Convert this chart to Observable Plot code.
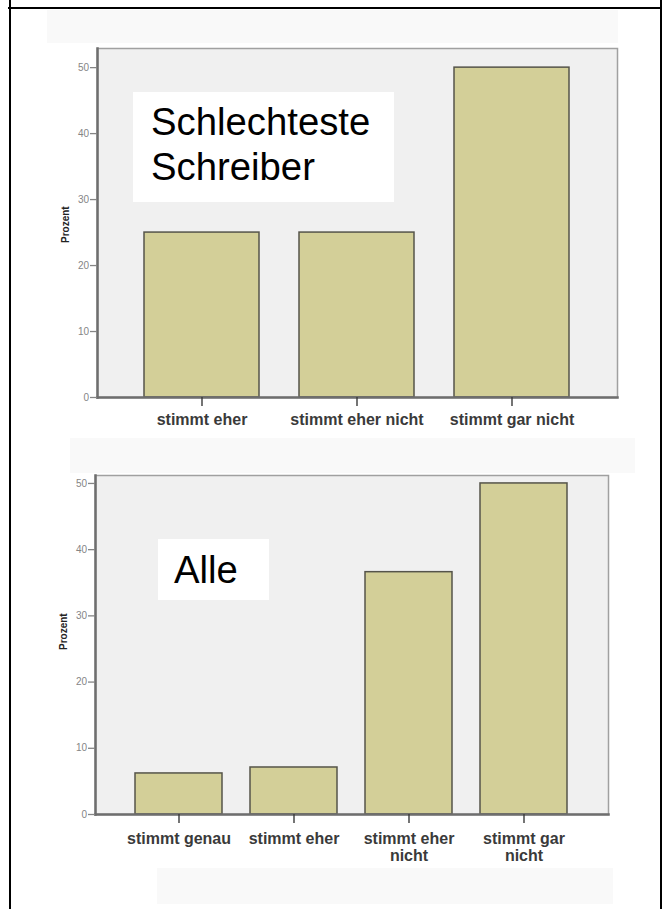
<!DOCTYPE html>
<html>
<head>
<meta charset="utf-8">
<script src="https://cdn.jsdelivr.net/npm/d3@7"></script>
<script src="https://cdn.jsdelivr.net/npm/@observablehq/plot@0.6"></script>
<style>
html, body { margin: 0; padding: 0; background: #fff; }
#page { position: relative; width: 667px; height: 913px; overflow: hidden; font-family: "Liberation Sans", Arial, sans-serif; }
.line { position: absolute; background: #000; }
.band { position: absolute; background: #f9f9f9; }
.chart { position: absolute; left: 0; }
.box { position: absolute; background: #fff; font-size: 38.3px; line-height: 45px; color: #000; box-sizing: border-box; white-space: pre; }
</style>
</head>
<body>
<div id="page">
  <div class="band" style="left:47px;top:10px;width:571px;height:33px"></div>
  <div class="band" style="left:70px;top:438px;width:565px;height:35px"></div>
  <div class="band" style="left:157px;top:868px;width:456px;height:36px"></div>
  <div class="chart" id="c1" style="top:0px"></div>
  <div class="chart" id="c2" style="top:440px"></div>
  <div class="box" id="t1" style="left:133px;top:92px;width:261px;height:110px;padding:7px 0 0 18px"></div>
  <div class="box" id="t2" style="left:158px;top:539px;width:111px;height:61px;padding:7.5px 0 0 16px"></div>
  <div class="line" style="left:8px;top:7px;width:654px;height:2px"></div>
  <div class="line" style="left:9px;top:0px;width:2px;height:909px"></div>
  <div class="line" style="left:660px;top:0px;width:2px;height:909px"></div>
</div>
<script>
// ---- data ----
const title1 = "Schlechteste\nSchreiber";
const title2 = "Alle";
const cats1 = ["stimmt eher", "stimmt eher nicht", "stimmt gar nicht"];
const vals1 = [25, 25, 50];
const cats2 = ["stimmt genau", "stimmt eher", "stimmt eher nicht", "stimmt gar nicht"];
const vals2 = [6.2, 7.1, 36.6, 50];
const labels2 = ["stimmt genau", "stimmt eher", "stimmt eher\nnicht", "stimmt gar\nnicht"];
const yTicks = [0, 10, 20, 30, 40, 50];
const yMax1 = 52.9;
const yMax2 = 51.2;
const yLabel = "Prozent";

const barFill = "#d3cf98";
const barStroke = "#55544a";

function chart({cats, vals, labels, yMax, width, height, margins, pIn, pOut, labelDy, xPad}) {
  const data = cats.map((c, i) => ({cat: c, value: vals[i]}));
  const labelOf = new Map(cats.map((c, i) => [c, labels[i]]));
  return Plot.plot({
    width, height,
    marginTop: margins[0], marginRight: margins[1], marginBottom: margins[2], marginLeft: margins[3],
    style: {fontFamily: "'Liberation Sans', Arial, sans-serif", background: "transparent", overflow: "visible"},
    x: {domain: cats, paddingInner: pIn, paddingOuter: pOut, axis: null},
    y: {domain: [0, yMax], axis: null},
    marks: [
      Plot.frame({fill: "#f0f0f0", stroke: "#a0a0a0", strokeWidth: 1.5}),
      Plot.barY(data, {x: "cat", y: "value", fill: barFill, stroke: barStroke, strokeWidth: 1.5}),
      Plot.frame({anchor: "left", stroke: "#6e6e6e", strokeWidth: 2.5}),
      Plot.frame({anchor: "bottom", stroke: "#6e6e6e", strokeWidth: 2.5}),
      Plot.axisY(yTicks, {tickSize: 7, tickPadding: 1.5, fontSize: 10, color: "#858585", strokeWidth: 1.3, label: null}),
      Plot.axisX({tickSize: 9, tickPadding: xPad, fontSize: 16, fontWeight: "bold", color: "#3a3a3a", strokeWidth: 1.4, label: null,
                  lineHeight: 1.06, tickFormat: d => labelOf.get(d)}),
      Plot.text([yLabel], {text: d => d, frameAnchor: "left", dx: -32, dy: labelDy, rotate: -90,
                           fontWeight: "bold", fontSize: 10, fill: "#222"})
    ]
  });
}

document.getElementById("c1").append(chart({
  cats: cats1, vals: vals1, labels: cats1, yMax: yMax1,
  width: 667, height: 440, margins: [48, 50, 43, 97], pIn: 0.256, pOut: 0.298, labelDy: 20, xPad: 6
}));
document.getElementById("c2").append(chart({
  cats: cats2, vals: vals2, labels: labels2, yMax: yMax2,
  width: 667, height: 473, margins: [35, 59, 99, 95], pIn: 0.243, pOut: 0.34, labelDy: 5, xPad: 8
}));
document.getElementById("t1").textContent = title1;
document.getElementById("t2").textContent = title2;
</script>
</body>
</html>
